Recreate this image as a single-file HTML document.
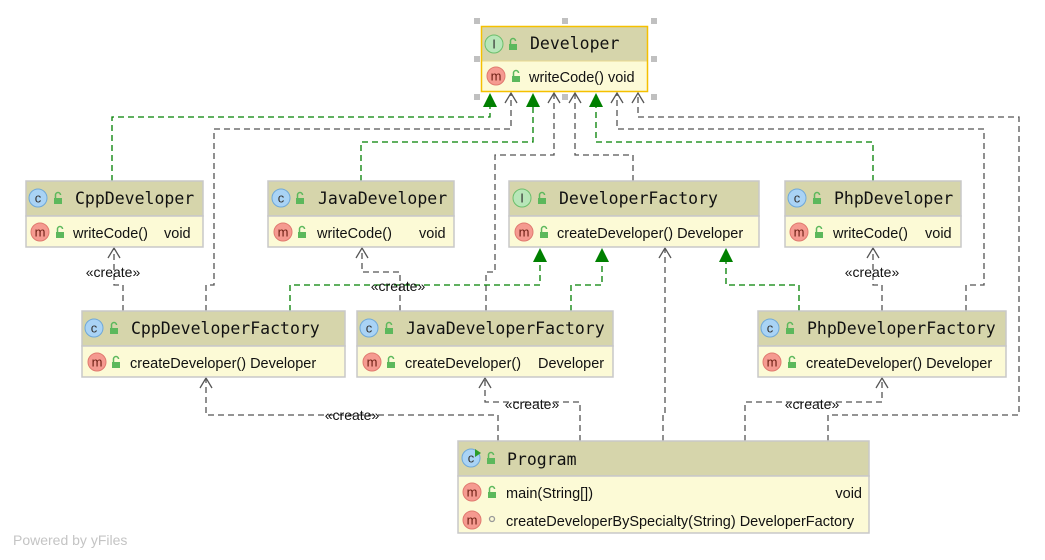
<!DOCTYPE html>
<html><head><meta charset="utf-8"><style>
html,body{margin:0;padding:0;background:#fff;}
svg{display:block;}
.mono{font-family:"DejaVu Sans Mono","Liberation Mono",monospace;font-size:16.5px;fill:#111;}
.t{font-family:"Liberation Sans",sans-serif;font-size:14.5px;fill:#111;}
.lbl{font-family:"Liberation Sans",sans-serif;font-size:14px;fill:#111;}
.g{stroke:#008000;stroke-width:1.3;stroke-dasharray:6,4;fill:none;}
.d{stroke:#555;stroke-width:1.3;stroke-dasharray:6,4;fill:none;}
.hd{fill:#d6d5ab;}
.bd{fill:#fcfad6;}
.ic{font-family:"Liberation Sans",sans-serif;font-size:13px;text-anchor:middle;}
</style></head><body>
<svg width="1045" height="560" viewBox="0 0 1045 560" xmlns="http://www.w3.org/2000/svg">
<defs>
<g id="lock"><rect x="-4" y="-1" width="8" height="6" fill="#5cb85c"/><path d="M-2.5,-1 v-3 a2.5,2.5 0 0 1 5,0" stroke="#5cb85c" stroke-width="1.5" fill="none"/></g>
<g id="ga"><path d="M0,0 L-7,14 L7,14 Z" fill="#008000"/></g>
<g id="oa"><path d="M-6,10 L0,0 L6,10" stroke="#555" stroke-width="1.3" fill="none"/></g>
<g id="cic"><circle r="9" fill="#a9d3f5" stroke="#6fa8d8"/><text class="ic" y="4.5" fill="#333">c</text></g>
<g id="iic"><circle r="9" fill="#b8e6b8" stroke="#6cbf6c"/><text class="ic" y="4.5" fill="#333">I</text></g>
<g id="mic"><circle r="9" fill="#f59a90" stroke="#e07a70"/><text class="ic" y="4.5" fill="#6b1d12">m</text></g>
</defs>

<path class="g" d="M112,181 V117 H490 V107"/>
<path class="g" d="M361,181 V142 H533 V107"/>
<path class="g" d="M873,181 V142 H596 V107"/>
<path class="d" d="M206,311 V285 H214 V129 H511 V94"/>
<path class="d" d="M486,311 V272 H495 V155 H554 V94"/>
<path class="d" d="M633,181 V155 H575 V94"/>
<path class="d" d="M966,311 V285 H984 V129 H617 V94"/>
<path class="d" d="M828,441 V415 H1019 V117 H638 V94"/>
<use href="#ga" x="490" y="93"/><use href="#ga" x="533" y="93"/><use href="#ga" x="596" y="93"/>
<use href="#oa" x="511" y="93"/><use href="#oa" x="554" y="93"/><use href="#oa" x="575" y="93"/><use href="#oa" x="617" y="93"/><use href="#oa" x="638" y="93"/>

<path class="g" d="M290,311 V285 H540 V262"/>
<path class="g" d="M571,311 V285 H602 V262"/>
<path class="g" d="M799,311 V285 H726 V262"/>
<path class="d" d="M663,441 V415 H665 V249"/>
<use href="#ga" x="540" y="248"/><use href="#ga" x="602" y="248"/><use href="#ga" x="726" y="248"/>
<use href="#oa" x="665" y="248"/>

<path class="d" d="M123,311 V285 H114 V249"/><use href="#oa" x="114" y="248"/>
<path class="d" d="M400,311 V272 H362 V249"/><use href="#oa" x="362" y="248"/>
<path class="d" d="M882,311 V285 H873 V249"/><use href="#oa" x="873" y="248"/>
<path class="d" d="M498,441 V415 H206 V379"/><use href="#oa" x="206" y="378"/>
<path class="d" d="M580,441 V402 H485 V379"/><use href="#oa" x="485" y="378"/>
<path class="d" d="M745,441 V402 H882 V379"/><use href="#oa" x="882" y="378"/>

<g class="lbl" text-anchor="middle">
<text x="113" y="277">«create»</text>
<text x="398" y="291">«create»</text>
<text x="872" y="277">«create»</text>
<text x="352" y="420">«create»</text>
<text x="532" y="409">«create»</text>
<text x="812" y="409">«create»</text>
</g>

<rect x="481" y="26" width="167" height="35" class="hd"/><rect x="481" y="61" width="167" height="31" class="bd"/>
<line x1="481" y1="61" x2="648" y2="61" stroke="#e8d890"/>
<rect x="481.5" y="26.5" width="166" height="65" fill="none" stroke="#f5c000" stroke-width="1.5"/>
<use href="#iic" x="494" y="44"/><use href="#lock" x="513" y="45"/>
<text class="mono" x="530" y="49">Developer</text>
<use href="#mic" x="496" y="76"/><use href="#lock" x="516" y="77"/>
<text class="t" x="529" y="82">writeCode() void</text>
<g fill="#c0c0c0">
<rect x="474" y="18" width="6" height="6"/><rect x="562" y="18" width="6" height="6"/><rect x="651" y="18" width="6" height="6"/>
<rect x="474" y="56" width="6" height="6"/><rect x="651" y="56" width="6" height="6"/>
<rect x="474" y="94" width="6" height="6"/><rect x="562" y="94" width="6" height="6"/><rect x="651" y="94" width="6" height="6"/>
</g>

<g stroke="#c8c8c8" stroke-width="1.5">
<rect x="26" y="181" width="177" height="35" class="hd"/><rect x="26" y="216" width="177" height="31" class="bd"/>
<rect x="268" y="181" width="186" height="35" class="hd"/><rect x="268" y="216" width="186" height="31" class="bd"/>
<rect x="509" y="181" width="250" height="35" class="hd"/><rect x="509" y="216" width="250" height="31" class="bd"/>
<rect x="785" y="181" width="176" height="35" class="hd"/><rect x="785" y="216" width="176" height="31" class="bd"/>
<rect x="82" y="311" width="263" height="35" class="hd"/><rect x="82" y="346" width="263" height="31" class="bd"/>
<rect x="357" y="311" width="256" height="35" class="hd"/><rect x="357" y="346" width="256" height="31" class="bd"/>
<rect x="758" y="311" width="248" height="35" class="hd"/><rect x="758" y="346" width="248" height="31" class="bd"/>
<rect x="458" y="441" width="411" height="35" class="hd"/><rect x="458" y="476" width="411" height="57" class="bd"/>
</g>

<use href="#cic" x="38" y="198"/><use href="#lock" x="58" y="199"/><text class="mono" x="75" y="204">CppDeveloper</text>
<use href="#mic" x="40" y="232"/><use href="#lock" x="60" y="233"/><text class="t" x="73" y="238">writeCode()</text><text class="t" x="164" y="238">void</text>

<use href="#cic" x="281" y="198"/><use href="#lock" x="300" y="199"/><text class="mono" x="318" y="204">JavaDeveloper</text>
<use href="#mic" x="283" y="232"/><use href="#lock" x="302" y="233"/><text class="t" x="317" y="238">writeCode()</text><text class="t" x="419" y="238">void</text>

<use href="#iic" x="522" y="198"/><use href="#lock" x="542" y="199"/><text class="mono" x="559" y="204">DeveloperFactory</text>
<use href="#mic" x="524" y="232"/><use href="#lock" x="544" y="233"/><text class="t" x="557" y="238">createDeveloper() Developer</text>

<use href="#cic" x="797" y="198"/><use href="#lock" x="817" y="199"/><text class="mono" x="834" y="204">PhpDeveloper</text>
<use href="#mic" x="799" y="232"/><use href="#lock" x="819" y="233"/><text class="t" x="833" y="238">writeCode()</text><text class="t" x="925" y="238">void</text>

<use href="#cic" x="94" y="328"/><use href="#lock" x="114" y="329"/><text class="mono" x="131" y="334">CppDeveloperFactory</text>
<use href="#mic" x="97" y="362"/><use href="#lock" x="116" y="363"/><text class="t" x="130" y="368">createDeveloper() Developer</text>

<use href="#cic" x="369" y="328"/><use href="#lock" x="389" y="329"/><text class="mono" x="406" y="334">JavaDeveloperFactory</text>
<use href="#mic" x="372" y="362"/><use href="#lock" x="391" y="363"/><text class="t" x="405" y="368">createDeveloper()</text><text class="t" x="538" y="368">Developer</text>

<use href="#cic" x="770" y="328"/><use href="#lock" x="790" y="329"/><text class="mono" x="807" y="334">PhpDeveloperFactory</text>
<use href="#mic" x="772" y="362"/><use href="#lock" x="792" y="363"/><text class="t" x="806" y="368">createDeveloper() Developer</text>

<use href="#cic" x="471" y="458"/><path d="M475,449 l6,4 -6,4z" fill="#2a9d2a"/><use href="#lock" x="491" y="459"/><text class="mono" x="507" y="465">Program</text>
<use href="#mic" x="472" y="492"/><use href="#lock" x="492" y="493"/><text class="t" x="506" y="498">main(String[])</text><text class="t" x="862" y="498" text-anchor="end">void</text>
<use href="#mic" x="472" y="520"/><circle cx="492" cy="519" r="2.5" fill="none" stroke="#999" stroke-width="1.3"/><text class="t" x="506" y="526">createDeveloperBySpecialty(String) DeveloperFactory</text>

<text x="13" y="545" font-family="Liberation Sans,sans-serif" font-size="14" fill="#c4c4c4">Powered by yFiles</text>
</svg>
</body></html>
